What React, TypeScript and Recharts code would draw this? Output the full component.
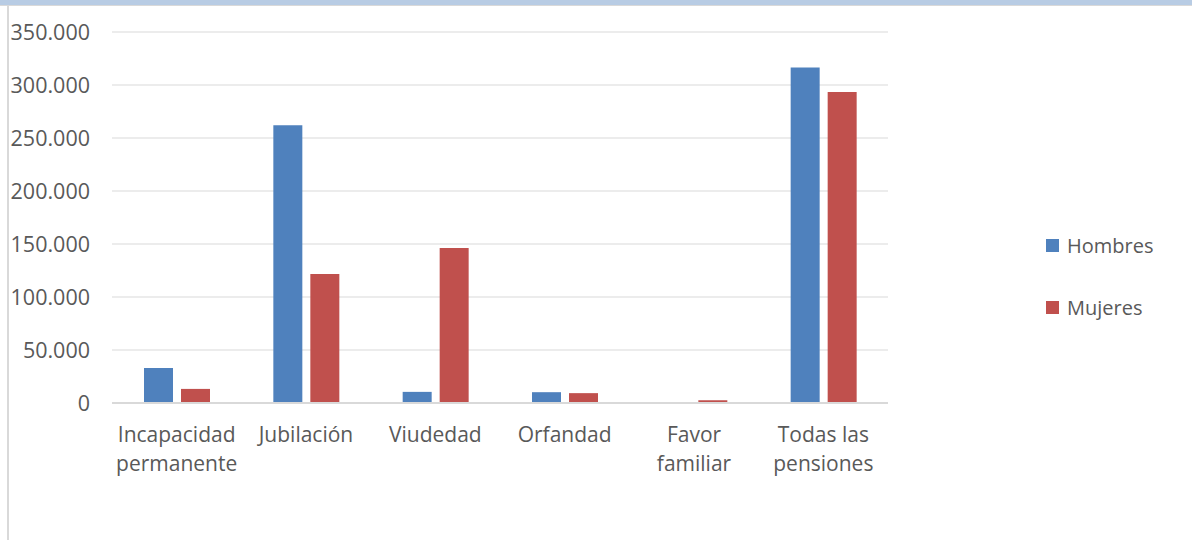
import { BarChart, Bar, XAxis, YAxis, CartesianGrid } from "recharts";

const categories = [
  "Incapacidad\npermanente",
  "Jubilación",
  "Viudedad",
  "Orfandad",
  "Favor\nfamiliar",
  "Todas las\npensiones",
];
const hombres = [33000, 262000, 10500, 10200, 300, 316500];
const mujeres = [13300, 121800, 146200, 9300, 2600, 293500];
const yTicks = [0, 50000, 100000, 150000, 200000, 250000, 300000, 350000];

const series = [
  { key: "hombres", name: "Hombres", color: "#4F81BD" },
  { key: "mujeres", name: "Mujeres", color: "#C0504D" },
];

const FONT = "'Open Sans', 'Liberation Sans', sans-serif";
const TEXT = "#595959";

const data = categories.map((c, i) => ({
  name: c,
  hombres: hombres[i],
  mujeres: mujeres[i],
}));

function fmt(v: number): string {
  return String(v).replace(/\B(?=(\d{3})+(?!\d))/g, ".");
}

function XTick({ x, y, payload }: any) {
  const lines = String(payload.value).split("\n");
  return (
    <text x={x} y={y} textAnchor="middle" fill={TEXT} fontSize={21} fontFamily={FONT}>
      {lines.map((l, i) => (
        <tspan key={i} x={x} dy={i === 0 ? 39 : 29}>
          {l}
        </tspan>
      ))}
    </text>
  );
}

export default function App() {
  return (
    <div
      style={{
        position: "absolute",
        left: 0,
        top: 0,
        width: 1192,
        height: 540,
        background: "#fff",
        overflow: "hidden",
        fontFamily: FONT,
      }}
    >
      <div style={{ position: "absolute", left: 0, top: 0, width: 1192, height: 5, background: "#B8CCE4" }} />
      <div style={{ position: "absolute", left: 0, top: 5, width: 1192, height: 1, background: "#D9D9D9" }} />
      <div style={{ position: "absolute", left: 7, top: 6, width: 2, height: 534, background: "#D9D9D9" }} />

      <div style={{ position: "absolute", left: 0, top: 0 }}>
        <BarChart
          width={1192}
          height={540}
          data={data}
          margin={{ top: 32, right: 304, bottom: 0, left: 0 }}
          barGap={8}
        >
          <CartesianGrid vertical={false} stroke="#D9D9D9" strokeWidth={1} />
          <XAxis
            dataKey="name"
            height={137}
            tick={<XTick />}
            tickLine={false}
            tickSize={0}
            tickMargin={0}
            interval={0}
            axisLine={{ stroke: "#D9D9D9", strokeWidth: 2 }}
          />
          <YAxis
            width={112}
            domain={[0, 350000]}
            ticks={yTicks}
            tickFormatter={fmt}
            axisLine={false}
            tickLine={false}
            tickSize={0}
            tickMargin={22}
            tick={{ fill: TEXT, fontSize: 21.5, fontFamily: FONT }}
          />
          {series.map((s) => (
            <Bar
              key={s.key}
              dataKey={s.key}
              name={s.name}
              fill={s.color}
              barSize={29}
              isAnimationActive={false}
            />
          ))}
        </BarChart>
      </div>

      <div style={{ position: "absolute", left: 1046, top: 231 }}>
        {series.map((s, i) => (
          <div
            key={s.key}
            style={{ display: "flex", alignItems: "center", height: 28, marginBottom: i === 0 ? 34 : 0 }}
          >
            <span style={{ width: 13, height: 13, background: s.color, display: "inline-block", marginRight: 8 }} />
            <span style={{ fontSize: 20, color: TEXT }}>{s.name}</span>
          </div>
        ))}
      </div>
    </div>
  );
}
